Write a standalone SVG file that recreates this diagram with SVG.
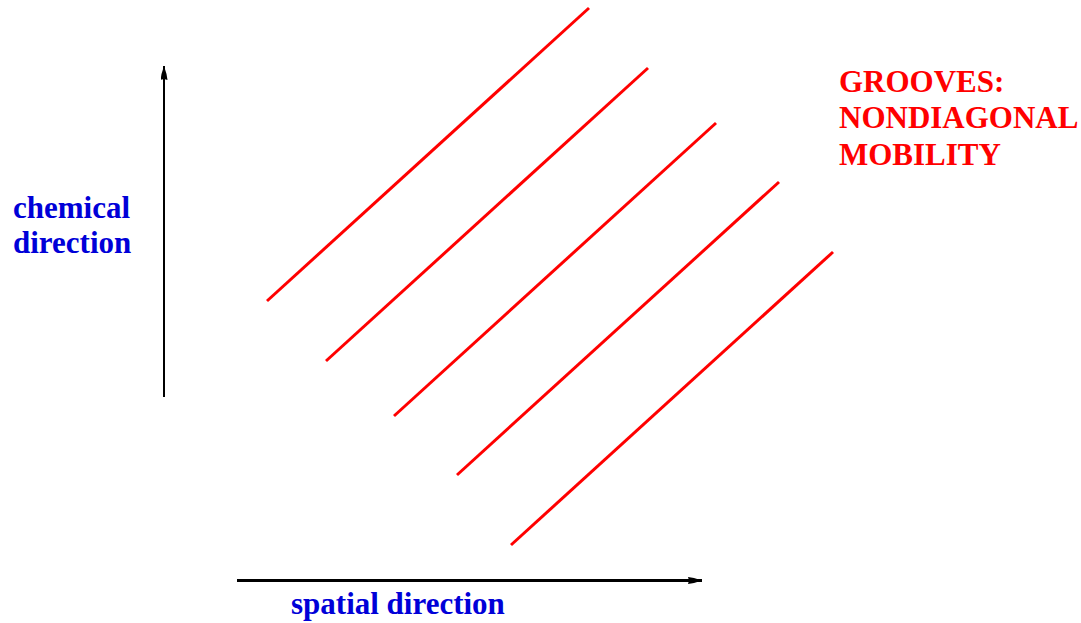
<svg xmlns="http://www.w3.org/2000/svg" width="1081" height="623" viewBox="0 0 1081 623">
<style>
.groove{stroke:#ff0000;stroke-width:3;fill:none}
.axis{stroke:#000;fill:none}
.lbl{font-family:"Liberation Serif","Times New Roman",serif;font-weight:bold;font-size:31px}
.blue{fill:#0000d8}
.red{fill:#ff0000}
</style>
<defs>
<marker id="ah" viewBox="0 0 14 7" refX="14" refY="3.5" markerWidth="14" markerHeight="7" markerUnits="userSpaceOnUse" orient="auto">
<path d="M0,0 L6,1 L14,3.5 L6,6 L0,7 L1,3.5 Z" fill="#000"/>
</marker>
</defs>
<rect width="1081" height="623" fill="#fff"/>
<g id="connectors">
<line class="axis" x1="164" y1="397" x2="164" y2="66" stroke-width="2" marker-end="url(#ah)"/>
<line class="axis" x1="237" y1="580.5" x2="702" y2="580.5" stroke-width="3" marker-end="url(#ah)"/>
</g>
<g id="grooves">
<line class="groove" x1="267" y1="301" x2="589" y2="8"/>
<line class="groove" x1="326" y1="361" x2="648" y2="68"/>
<line class="groove" x1="394" y1="416" x2="716" y2="123"/>
<line class="groove" x1="457" y1="475" x2="779" y2="182"/>
<line class="groove" x1="511" y1="545" x2="833" y2="252"/>
</g>
<g id="label-chemical">
<text class="lbl blue" x="13" y="218">chemical</text>
<text class="lbl blue" x="13" y="253">direction</text>
</g>
<g id="label-spatial">
<text class="lbl blue" x="291" y="614">spatial direction</text>
</g>
<g id="label-grooves">
<text class="lbl red" x="839" y="92">GROOVES:</text>
<text class="lbl red" x="839" y="128">NONDIAGONAL</text>
<text class="lbl red" x="839" y="165">MOBILITY</text>
</g>
</svg>
